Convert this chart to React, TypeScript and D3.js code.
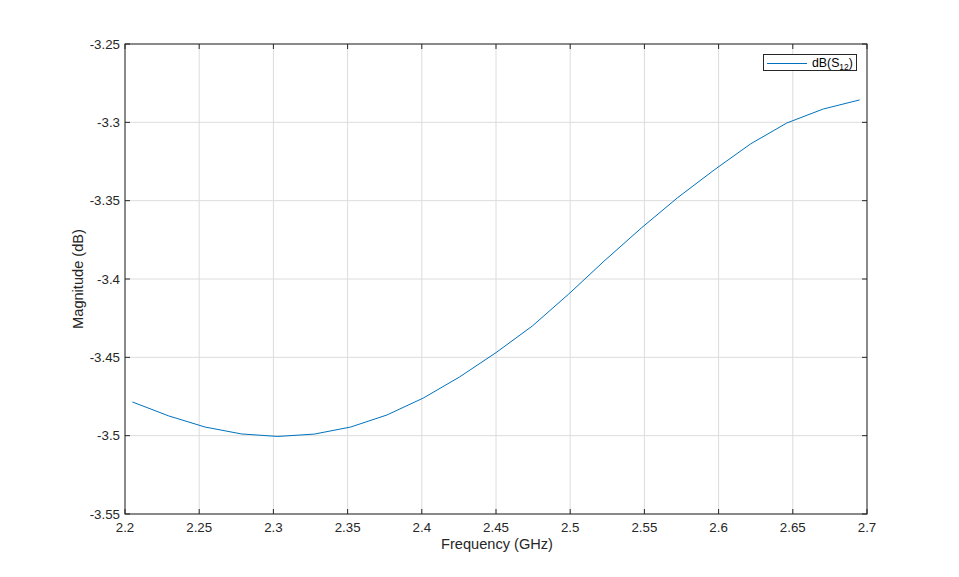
import React from "react";
import * as d3 from "d3";

const freqs = [2.205, 2.2295, 2.254, 2.2785, 2.303, 2.3275, 2.352, 2.3765, 2.401, 2.4255, 2.45, 2.4745, 2.499, 2.5235, 2.548, 2.5725, 2.597, 2.6215, 2.646, 2.6705, 2.695];
const s12 = [-3.4785, -3.4874, -3.4945, -3.4989, -3.5005, -3.499, -3.4945, -3.4868, -3.476, -3.4625, -3.447, -3.43, -3.4096, -3.388, -3.3674, -3.348, -3.3304, -3.3138, -3.3004, -3.2915, -3.2857];
const xTicks = [2.2, 2.25, 2.3, 2.35, 2.4, 2.45, 2.5, 2.55, 2.6, 2.65, 2.7];
const yTicks = [-3.55, -3.5, -3.45, -3.4, -3.35, -3.3, -3.25];

const W = 959, H = 577;
const L = 125, R = 867, T = 44, B = 514;
const font = "'Liberation Sans', Arial, Helvetica, sans-serif";

export default function App() {
  const x = d3.scaleLinear().domain([2.2, 2.7]).range([L, R]);
  const y = d3.scaleLinear().domain([-3.55, -3.25]).range([B, T]);
  const line = d3.line<number>().x((_, i) => x(freqs[i])).y((d) => y(d));
  const fmt = (v: number) => String(+v.toFixed(2));
  return (
    <svg width={W} height={H} style={{ position: "absolute", left: 0, top: 0, background: "#fff" }}>
      <rect x={0} y={0} width={W} height={H} fill="#fff" />
      {xTicks.map((t) => (
        <line key={"gx" + t} x1={x(t)} x2={x(t)} y1={T} y2={B} stroke="#dcdcdc" strokeWidth={1} />
      ))}
      {yTicks.map((t) => (
        <line key={"gy" + t} x1={L} x2={R} y1={y(t)} y2={y(t)} stroke="#dcdcdc" strokeWidth={1} />
      ))}
      <path d={line(s12) || ""} fill="none" stroke="#0072BD" strokeWidth={1} />
      <rect x={L} y={T} width={R - L} height={B - T} fill="none" stroke="#262626" strokeWidth={1} />
      {xTicks.map((t) => (
        <g key={"tx" + t}>
          <line x1={x(t)} x2={x(t)} y1={B} y2={B - 5} stroke="#262626" />
          <line x1={x(t)} x2={x(t)} y1={T} y2={T + 5} stroke="#262626" />
          <text x={x(t)} y={532} textAnchor="middle" fontFamily={font} fontSize={13.3} fill="#262626">{fmt(t)}</text>
        </g>
      ))}
      {yTicks.map((t) => (
        <g key={"ty" + t}>
          <line x1={L} x2={L + 5} y1={y(t)} y2={y(t)} stroke="#262626" />
          <line x1={R} x2={R - 5} y1={y(t)} y2={y(t)} stroke="#262626" />
          <text x={120} y={y(t) + 4.5} textAnchor="end" fontFamily={font} fontSize={13.3} fill="#262626">{fmt(t)}</text>
        </g>
      ))}
      <text x={497} y={549} textAnchor="middle" fontFamily={font} fontSize={14.6} fill="#262626">Frequency (GHz)</text>
      <text transform={`translate(83,${(T + B) / 2}) rotate(-90)`} textAnchor="middle" fontFamily={font} fontSize={14.6} fill="#262626">Magnitude (dB)</text>
      <rect x={763.5} y={54.5} width={93} height={16} fill="#fff" stroke="#262626" strokeWidth={1} />
      <line x1={767} x2={807} y1={63.5} y2={63.5} stroke="#0072BD" strokeWidth={1} />
      <text x={812} y={67} fontFamily={font} fontSize={12.3} fill="#000">
        dB(S<tspan fontSize={8.5} dy={2.5}>12</tspan><tspan dy={-2.5}>)</tspan>
      </text>
    </svg>
  );
}
